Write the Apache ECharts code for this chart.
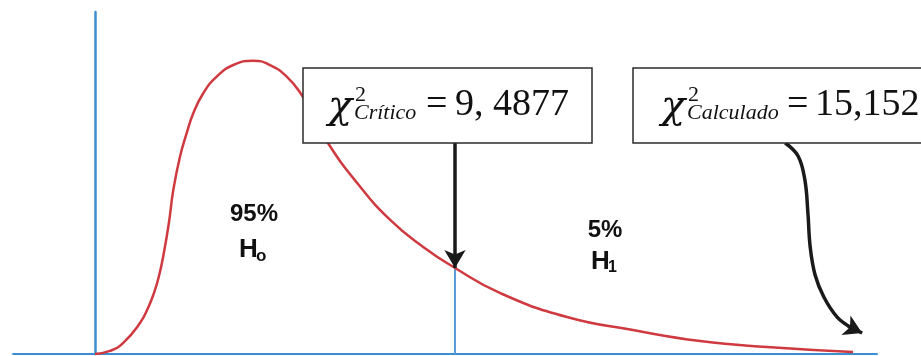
<!DOCTYPE html>
<html>
<head>
<meta charset="utf-8">
<script src="https://cdn.jsdelivr.net/npm/echarts@6/dist/echarts.min.js"></script>
<style>
  html, body { margin: 0; padding: 0; background: #fff; }
  #main { width: 921px; height: 356px; }
</style>
</head>
<body>
<div id="main"></div>
<script>
var myChart = echarts.init(document.getElementById('main'));

// curva chi-cuadrado
var curveX = [0, 0.395, 0.738, 1.186, 1.397, 1.555, 1.687, 1.819, 1.951, 2.064, 2.240, 2.417, 2.591, 2.854, 3.208, 3.645, 4.172, 4.613, 5.053, 5.449, 5.80, 6.14, 6.91, 7.78, 8.65, 9.49, 10.67, 12.44, 14.18, 15.95, 17.71, 19.98];
var curveY = [0, 0.0018, 0.0064, 0.0181, 0.0269, 0.0357, 0.0456, 0.0596, 0.0772, 0.0959, 0.1154, 0.1291, 0.1408, 0.1525, 0.1622, 0.1690, 0.1715, 0.1690, 0.1622, 0.1515, 0.1380, 0.1234, 0.1000, 0.0784, 0.0626, 0.0503, 0.0357, 0.0216, 0.0140, 0.0076, 0.0041, 0.0012];

var critico = 9.4877;
var calculado = 15.152;
var criticoY = 0.0503;     // altura de la curva en el valor critico
var boxBottomY = 0.1234;   // borde inferior de los recuadros

// flecha curva desde el recuadro "Calculado"
var arrowX = [18.19, 18.53, 18.71, 18.79, 18.85, 18.98, 19.21, 19.56, 19.95];
var arrowY = [0.1234, 0.1158, 0.1018, 0.0825, 0.0626, 0.0462, 0.0333, 0.0216, 0.0152];
var arrowTip = [20.22, 0.0123];

var labels = ['95%', 'H', 'o', '5%', 'H', '1'];

function zip(a, b) {
    var out = [];
    for (var i = 0; i < a.length; i++) out.push([a[i], b[i]]);
    return out;
}

var blue = '#3d8fd1';
var red = '#cf3a40';
var black = '#1a1a1a';
var serif = 'Liberation Serif, Times New Roman, serif';
var greek = 'DejaVu Serif, serif';
var sans = 'Liberation Sans, Arial, sans-serif';

function txt(x, y, s, size, opts) {
    opts = opts || {};
    return {
        type: 'text',
        x: x,
        y: y,
        z: 110,
        style: {
            text: s,
            fill: opts.fill || '#111',
            font: (opts.italic ? 'italic ' : '') + (opts.bold ? 'bold ' : '') + size + 'px ' + (opts.family || serif),
            align: opts.align || 'left',
            verticalAlign: 'middle'
        }
    };
}

function box(x, y, w, h) {
    return {
        type: 'rect',
        z: 100,
        shape: { x: x, y: y, width: w, height: h },
        style: { fill: '#fff', stroke: '#2b2b2b', lineWidth: 1.5 }
    };
}

option = {
    animation: false,
    backgroundColor: '#fff',
    grid: { left: 13, right: 44, top: 12, bottom: 2, containLabel: false },
    xAxis: {
        type: 'value',
        min: -2.161,
        max: 20.611,
        axisLine: { show: true, onZero: true, lineStyle: { color: blue, width: 2 } },
        axisTick: { show: false },
        axisLabel: { show: false },
        splitLine: { show: false }
    },
    yAxis: {
        type: 'value',
        min: 0,
        max: 0.2,
        axisLine: { show: true, onZero: true, lineStyle: { color: blue, width: 2.5 } },
        axisTick: { show: false },
        axisLabel: { show: false },
        splitLine: { show: false }
    },
    series: [
        {
            name: 'chi2',
            type: 'line',
            data: zip(curveX, curveY),
            smooth: 0.5,
            showSymbol: false,
            lineStyle: { color: red, width: 2.5 },
            z: 3
        },
        {
            name: 'critico',
            type: 'line',
            data: [[critico, 0], [critico, criticoY]],
            showSymbol: false,
            lineStyle: { color: '#5a9ad6', width: 2 },
            z: 2
        },
        {
            name: 'flechaCritico',
            type: 'line',
            data: [],
            markLine: {
                silent: true,
                symbol: ['none', 'arrow'],
                symbolSize: [16, 18],
                label: { show: false },
                lineStyle: { color: black, width: 3.5, type: 'solid' },
                data: [[{ coord: [critico, boxBottomY] }, { coord: [critico, criticoY] }]]
            },
            z: 5
        },
        {
            name: 'flechaCalculado',
            type: 'line',
            data: zip(arrowX, arrowY),
            smooth: 0.4,
            showSymbol: false,
            lineStyle: { color: black, width: 3.5 },
            markLine: {
                silent: true,
                symbol: ['none', 'arrow'],
                symbolSize: [16, 18],
                label: { show: false },
                lineStyle: { color: black, width: 3.5, type: 'solid' },
                data: [[{ coord: [arrowX[arrowX.length - 1] - 0.1, arrowY[arrowY.length - 1] + 0.001] }, { coord: arrowTip }]]
            },
            z: 5
        }
    ],
    graphic: [
        box(303, 68, 289, 75),
        txt(328, 108, '\u03c7', 40, { italic: true, family: greek }),
        txt(355, 95, '2', 22),
        txt(354, 113, 'Cr\u00edtico', 22, { italic: true }),
        txt(426, 105, '=', 38),
        txt(455, 105, '9, 4877', 38),

        box(633, 68, 300, 75),
        txt(661, 108, '\u03c7', 40, { italic: true, family: greek }),
        txt(688, 95, '2', 22),
        txt(687, 113, 'Calculado', 22, { italic: true }),
        txt(787, 105, '=', 38),
        txt(815, 105, '15,152', 38),

        txt(254, 214, labels[0], 24, { bold: true, family: sans, align: 'center' }),
        txt(239, 250, labels[1], 26, { bold: true, family: sans }),
        txt(256, 256, labels[2], 17, { bold: true, family: sans }),
        txt(605, 230, labels[3], 24, { bold: true, family: sans, align: 'center' }),
        txt(591, 262, labels[4], 26, { bold: true, family: sans }),
        txt(608, 268, labels[5], 16, { bold: true, family: sans })
    ]
};

myChart.setOption(option);
window.onresize = myChart.resize;
</script>
</body>
</html>
